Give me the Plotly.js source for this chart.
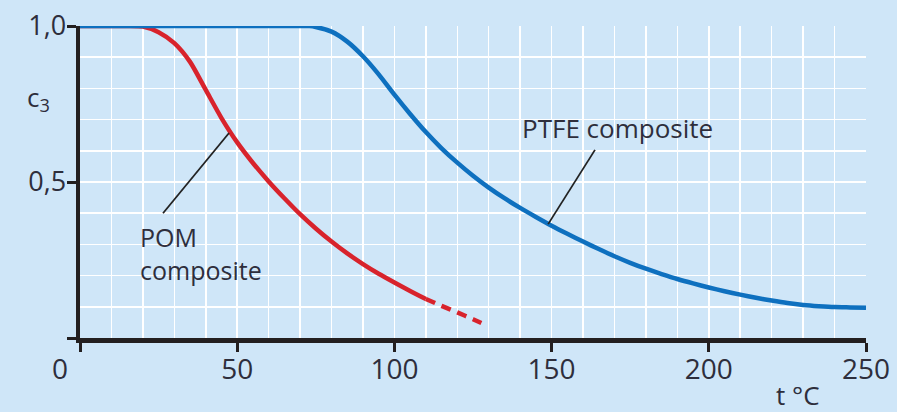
<!DOCTYPE html>
<html>
<head>
<meta charset="utf-8">
<script src="https://cdn.plot.ly/plotly-3.0.1.min.js"></script>
<style>html,body{margin:0;padding:0;background:#cfe6f8;}#chart{width:897px;height:412px;}</style>
</head>
<body>
<div id="chart"></div>
<script>
// POM composite (solid part)
const pomX = [0, 5, 10, 15, 20, 25, 30, 35, 40, 45, 50, 55, 60, 65, 70, 75, 80, 85, 90, 95, 100, 105, 110];
const pomY = [1.0, 1.0, 1.0, 1.0, 0.998, 0.98, 0.945, 0.885, 0.795, 0.705, 0.627, 0.561, 0.502, 0.448, 0.397, 0.351, 0.309, 0.271, 0.237, 0.206, 0.178, 0.151, 0.125];
// POM composite (dashed extrapolation)
const pomDashX = [110, 115, 120, 125, 129];
const pomDashY = [0.125, 0.103, 0.082, 0.06, 0.042];
// PTFE composite
const ptfeX = [0, 10, 20, 30, 40, 50, 60, 65, 70, 73, 75, 80, 85, 90, 95, 100, 105, 110, 115, 120, 125, 130, 135, 140, 145, 150, 155, 160, 165, 170, 175, 180, 185, 190, 195, 200, 205, 210, 215, 220, 225, 230, 235, 240, 245, 250];
const ptfeY = [1.0, 1.0, 1.0, 1.0, 1.0, 1.0, 1.0, 1.0, 1.0, 1.0, 0.997, 0.982, 0.95, 0.903, 0.845, 0.78, 0.718, 0.66, 0.608, 0.562, 0.52, 0.482, 0.448, 0.417, 0.388, 0.36, 0.334, 0.309, 0.285, 0.262, 0.241, 0.222, 0.205, 0.189, 0.175, 0.162, 0.15, 0.139, 0.129, 0.12, 0.112, 0.106, 0.102, 0.099, 0.098, 0.097];

const xTickVals = [0, 50, 100, 150, 200, 250];
const xTickText = ['', '50', '100', '150', '200', '250'];
const yTickVals = [0, 0.5, 1.0];
const yTickText = ['', '0,5', '1,0'];

const FONT = '"Open Sans", "Noto Sans", sans-serif';
const TXT = '#2e2e3c';
const BG = '#cfe6f8';
const RED = '#d8232c';
const BLUE = '#0e70bf';

const traces = [
  {x: pomX, y: pomY, mode: 'lines', line: {color: RED, width: 4.5, shape: 'spline', smoothing: 0.7}, cliponaxis: false, hoverinfo: 'skip'},
  {x: pomDashX, y: pomDashY, mode: 'lines', line: {color: RED, width: 4.5, dash: '10px,7px', shape: 'spline', smoothing: 0.6}, cliponaxis: false, hoverinfo: 'skip'},
  {x: ptfeX, y: ptfeY, mode: 'lines', line: {color: BLUE, width: 4.5, shape: 'spline', smoothing: 0.7}, cliponaxis: false, hoverinfo: 'skip'}
];

const layout = {
  width: 897, height: 412,
  margin: {l: 80, r: 31, t: 26, b: 74},
  paper_bgcolor: BG, plot_bgcolor: BG,
  showlegend: false,
  font: {family: FONT, color: TXT, size: 26},
  xaxis: {
    range: [0, 250], tickmode: 'array', tickvals: xTickVals, ticktext: xTickText,
    showgrid: true, gridcolor: '#ffffff', gridwidth: 1.5,
    minor: {dtick: 10, tick0: 0, showgrid: true, gridcolor: '#ffffff', gridwidth: 1.5, ticks: ''},
    showline: true, linecolor: '#231f20', linewidth: 4.5,
    ticks: 'outside', ticklen: 9, tickwidth: 3, tickcolor: '#231f20',
    ticklabelstandoff: -6,
    tickfont: {family: FONT, size: 28, color: TXT},
    zeroline: false, fixedrange: true
  },
  yaxis: {
    range: [0, 1.0], tickmode: 'array', tickvals: yTickVals, ticktext: yTickText,
    showgrid: true, gridcolor: '#ffffff', gridwidth: 1.5,
    minor: {dtick: 0.1, tick0: 0, showgrid: true, gridcolor: '#ffffff', gridwidth: 1.5, ticks: ''},
    showline: true, linecolor: '#231f20', linewidth: 4.5,
    ticks: 'outside', ticklen: 9, tickwidth: 3, tickcolor: '#231f20',
    ticklabelstandoff: -5,
    tickfont: {family: FONT, size: 27, color: TXT},
    zeroline: false, fixedrange: true
  },
  shapes: [
    {type: 'line', xref: 'x', yref: 'y', x0: 47.4, y0: 0.657, x1: 26.4, y1: 0.40, line: {color: '#222222', width: 1.8}},
    {type: 'line', xref: 'x', yref: 'y', x0: 163.8, y0: 0.603, x1: 148.9, y1: 0.365, line: {color: '#222222', width: 1.8}}
  ],
  annotations: [
    {text: 'PTFE composite', xref: 'x', yref: 'y', x: 140, y: 0.673, xanchor: 'left', yanchor: 'middle', showarrow: false, font: {family: FONT, size: 26, color: TXT}},
    {text: 'POM<br>composite', xref: 'x', yref: 'y', x: 18.4, y: 0.272, xanchor: 'left', yanchor: 'middle', align: 'left', showarrow: false, font: {family: FONT, size: 25, color: TXT}},
    {text: '0', xref: 'paper', yref: 'paper', x: -0.026, y: -0.096, xanchor: 'center', yanchor: 'middle', showarrow: false, font: {family: FONT, size: 28, color: TXT}},
    {text: 'c<sub>3</sub>', xref: 'paper', yref: 'paper', x: -0.036, y: 0.77, xanchor: 'right', yanchor: 'middle', showarrow: false, font: {family: FONT, size: 26, color: TXT}},
    {text: 't °C', xref: 'paper', yref: 'paper', x: 0.913, y: -0.183, xanchor: 'center', yanchor: 'middle', showarrow: false, font: {family: FONT, size: 26, color: TXT}}
  ]
};

Plotly.newPlot('chart', traces, layout, {staticPlot: true, displayModeBar: false});
</script>
</body>
</html>
